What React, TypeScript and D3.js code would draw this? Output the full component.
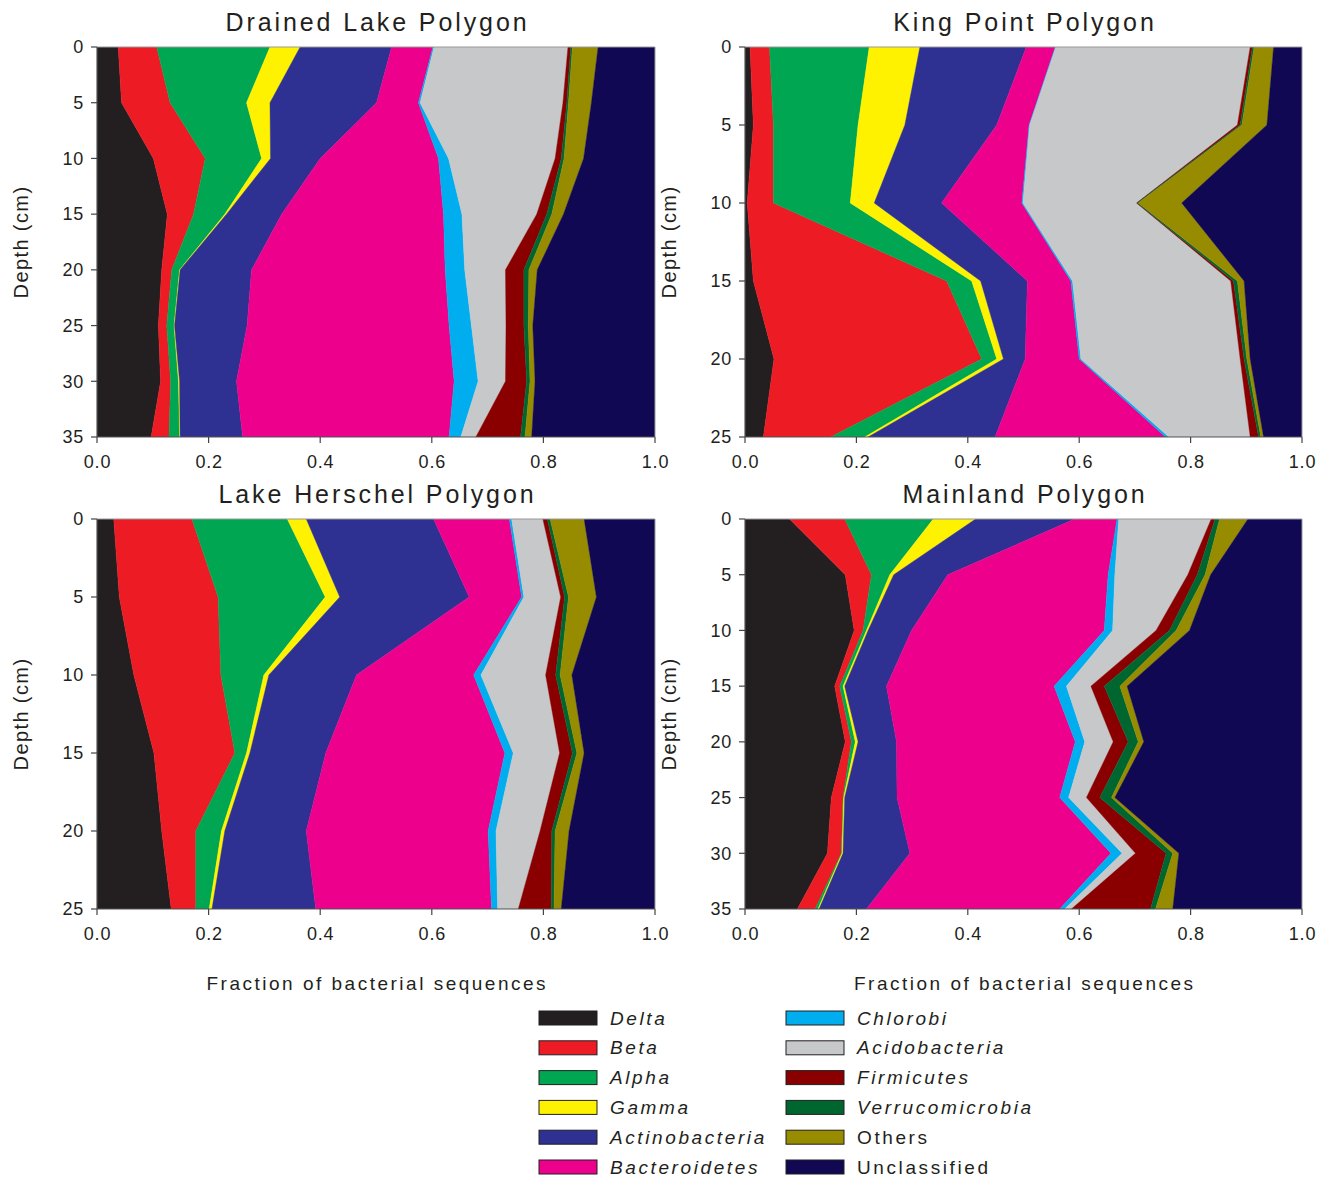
import React from "react";
import * as d3 from "d3";

const categories = [
  "Delta", "Beta", "Alpha", "Gamma", "Actinobacteria", "Bacteroidetes",
  "Chlorobi", "Acidobacteria", "Firmicutes", "Verrucomicrobia", "Others", "Unclassified",
];
const italicCats = [true, true, true, true, true, true, true, true, true, true, false, false];
const colors = [
  "#231f20", "#ed1c24", "#00a651", "#fff200", "#2e3192", "#ec008c",
  "#00aeef", "#c7c8ca", "#8a0000", "#00662f", "#978c00", "#110854",
];

const xTicks = [0, 0.2, 0.4, 0.6, 0.8, 1.0];

// Drained Lake Polygon
const drainedDepths = [0, 5, 10, 15, 20, 25, 30, 35];
const drainedValues = [
  [0.038, 0.044, 0.101, 0.126, 0.116, 0.110, 0.114, 0.097],
  [0.069, 0.087, 0.093, 0.047, 0.018, 0.015, 0.018, 0.032],
  [0.203, 0.137, 0.101, 0.056, 0.014, 0.013, 0.014, 0.019],
  [0.054, 0.042, 0.016, 0.003, 0.001, 0.001, 0.002, 0.001],
  [0.164, 0.191, 0.089, 0.099, 0.128, 0.130, 0.102, 0.112],
  [0.074, 0.075, 0.212, 0.290, 0.347, 0.362, 0.390, 0.370],
  [0.002, 0.003, 0.018, 0.033, 0.035, 0.040, 0.043, 0.021],
  [0.240, 0.256, 0.191, 0.134, 0.073, 0.062, 0.049, 0.027],
  [0.005, 0.007, 0.011, 0.018, 0.033, 0.032, 0.038, 0.080],
  [0.003, 0.003, 0.005, 0.009, 0.009, 0.008, 0.006, 0.008],
  [0.046, 0.041, 0.035, 0.021, 0.015, 0.008, 0.009, 0.012],
  [0.102, 0.114, 0.128, 0.164, 0.211, 0.219, 0.215, 0.221],
];

// King Point Polygon
const kingDepths = [0, 5, 10, 15, 20, 25];
const kingValues = [
  [0.009, 0.015, 0.004, 0.015, 0.052, 0.033],
  [0.035, 0.036, 0.047, 0.347, 0.373, 0.121],
  [0.179, 0.152, 0.138, 0.045, 0.027, 0.061],
  [0.091, 0.084, 0.043, 0.016, 0.012, 0.006],
  [0.191, 0.165, 0.121, 0.084, 0.039, 0.228],
  [0.052, 0.058, 0.144, 0.078, 0.097, 0.306],
  [0.001, 0.001, 0.002, 0.003, 0.003, 0.006],
  [0.349, 0.373, 0.204, 0.284, 0.286, 0.146],
  [0.004, 0.005, 0.001, 0.005, 0.007, 0.015],
  [0.003, 0.003, 0.002, 0.007, 0.005, 0.004],
  [0.035, 0.045, 0.078, 0.012, 0.006, 0.005],
  [0.051, 0.063, 0.216, 0.104, 0.093, 0.069],
];

// Lake Herschel Polygon
const herschelDepths = [0, 5, 10, 15, 20, 25];
const herschelValues = [
  [0.030, 0.040, 0.066, 0.102, 0.116, 0.133],
  [0.140, 0.177, 0.156, 0.145, 0.061, 0.044],
  [0.171, 0.192, 0.077, 0.021, 0.046, 0.024],
  [0.034, 0.026, 0.009, 0.006, 0.006, 0.005],
  [0.228, 0.232, 0.157, 0.136, 0.146, 0.186],
  [0.136, 0.094, 0.210, 0.321, 0.326, 0.315],
  [0.004, 0.004, 0.013, 0.015, 0.014, 0.011],
  [0.056, 0.066, 0.116, 0.083, 0.079, 0.037],
  [0.008, 0.007, 0.018, 0.023, 0.021, 0.059],
  [0.005, 0.007, 0.008, 0.008, 0.006, 0.005],
  [0.061, 0.050, 0.021, 0.013, 0.025, 0.013],
  [0.127, 0.105, 0.149, 0.127, 0.154, 0.168],
];

// Mainland Polygon
const mainlandDepths = [0, 5, 10, 15, 20, 25, 30, 35];
const mainlandValues = [
  [0.080, 0.180, 0.196, 0.161, 0.180, 0.155, 0.148, 0.094],
  [0.099, 0.047, 0.016, 0.009, 0.011, 0.021, 0.025, 0.032],
  [0.159, 0.033, 0.006, 0.006, 0.007, 0.001, 0.001, 0.005],
  [0.076, 0.007, 0.003, 0.003, 0.005, 0.002, 0.002, 0.002],
  [0.178, 0.097, 0.078, 0.075, 0.069, 0.094, 0.120, 0.085],
  [0.076, 0.288, 0.346, 0.301, 0.321, 0.292, 0.361, 0.347],
  [0.003, 0.012, 0.015, 0.022, 0.017, 0.016, 0.020, 0.009],
  [0.166, 0.131, 0.078, 0.044, 0.051, 0.032, 0.024, 0.012],
  [0.007, 0.017, 0.024, 0.024, 0.027, 0.024, 0.055, 0.142],
  [0.008, 0.014, 0.012, 0.028, 0.018, 0.021, 0.012, 0.009],
  [0.051, 0.010, 0.024, 0.013, 0.010, 0.006, 0.011, 0.031],
  [0.097, 0.164, 0.202, 0.314, 0.284, 0.336, 0.221, 0.232],
];

const FONT = "'Liberation Sans', Arial, Helvetica, sans-serif";

type PanelProps = {
  title: string;
  depths: number[];
  values: number[][];
  maxDepth: number;
  box: { x0: number; x1: number; y0: number; y1: number };
  showXLabel: boolean;
};

function Panel({ title, depths, values, maxDepth, box, showXLabel }: PanelProps) {
  const x = d3.scaleLinear().domain([0, 1]).range([box.x0, box.x1]);
  const y = d3.scaleLinear().domain([0, maxDepth]).range([box.y0, box.y1]);
  const rows = depths.map((dep, i) => {
    const r: any = { depth: dep };
    categories.forEach((c, k) => (r[c] = values[k][i]));
    return r;
  });
  const series = d3.stack().keys(categories)(rows as any);
  const area = d3
    .area<any>()
    .y((d) => y(d.data.depth))
    .x0((d) => x(d[0]))
    .x1((d) => x(Math.min(1, d[1])));
  const yTicks = d3.range(0, maxDepth + 1, 5);
  const clipId = "clip-" + title.replace(/\s/g, "");
  const cx = (box.x0 + box.x1) / 2;
  const cy = (box.y0 + box.y1) / 2;
  return (
    <g>
      <defs>
        <clipPath id={clipId}>
          <rect x={box.x0} y={box.y0} width={box.x1 - box.x0} height={box.y1 - box.y0} />
        </clipPath>
      </defs>
      <g clipPath={`url(#${clipId})`}>
        {series.map((s, k) => (
          <path key={k} d={area(s as any) || ""} fill={colors[k]} stroke={colors[k]} strokeWidth={0.4} />
        ))}
      </g>
      <line x1={box.x0} x2={box.x1} y1={box.y0} y2={box.y0} stroke="#999" strokeWidth={1} />
      <line x1={box.x1} x2={box.x1} y1={box.y0} y2={box.y1} stroke="#999" strokeWidth={1} />
      <line x1={box.x0} x2={box.x0} y1={box.y0} y2={box.y1} stroke="#555" strokeWidth={1.2} />
      <line x1={box.x0} x2={box.x1} y1={box.y1} y2={box.y1} stroke="#555" strokeWidth={1.2} />
      {yTicks.map((t) => (
        <g key={"y" + t}>
          <line x1={box.x0 - 6} x2={box.x0} y1={y(t)} y2={y(t)} stroke="#444" strokeWidth={1.2} />
          <text x={box.x0 - 13} y={y(t)} dy="0.35em" textAnchor="end" fontSize={18} fontFamily={FONT}
            letterSpacing={0.8} fill="#231f20">
            {t}
          </text>
        </g>
      ))}
      {xTicks.map((t) => (
        <g key={"x" + t}>
          <line x1={x(t)} x2={x(t)} y1={box.y1} y2={box.y1 + 6} stroke="#444" strokeWidth={1.2} />
          <text x={x(t) + 0.5} y={box.y1 + 31} textAnchor="middle" fontSize={18} fontFamily={FONT}
            letterSpacing={0.8} fill="#231f20">
            {t.toFixed(1)}
          </text>
        </g>
      ))}
      <text x={cx + 1.5} y={box.y0 - 16} textAnchor="middle" fontSize={25} fontFamily={FONT}
        letterSpacing={2.9} fill="#231f20">
        {title}
      </text>
      <text
        transform={`translate(${box.x0 - 69},${cy}) rotate(-90)`}
        textAnchor="middle"
        fontSize={20}
        fontFamily={FONT}
        letterSpacing={1.4}
        fill="#231f20"
      >
        Depth (cm)
      </text>
      {showXLabel && (
        <text x={cx + 1.3} y={box.y1 + 81} textAnchor="middle" fontSize={19} fontFamily={FONT}
          letterSpacing={2.5} fill="#231f20">
          Fraction of bacterial sequences
        </text>
      )}
    </g>
  );
}

function Legend() {
  const rowY = (i: number) => 1018 + i * 29.8;
  return (
    <g>
      {categories.map((c, k) => {
        const col = k < 6 ? 0 : 1;
        const row = k % 6;
        const sx = col === 0 ? 539 : 786;
        return (
          <g key={c}>
            <rect x={sx} y={rowY(row) - 7} width={58} height={14} fill={colors[k]} stroke="#231f20" strokeWidth={1} />
            <text
              x={sx + 71}
              y={rowY(row)}
              dy="0.35em"
              fontSize={19}
              fontFamily={FONT}
              letterSpacing={2.6}
              fontStyle={italicCats[k] ? "italic" : "normal"}
              fill="#231f20"
            >
              {c}
            </text>
          </g>
        );
      })}
    </g>
  );
}

export default function App() {
  return (
    <svg
      width={1331}
      height={1180}
      style={{ position: "absolute", left: 0, top: 0, background: "#fff" }}
    >
      <rect x={0} y={0} width={1331} height={1180} fill="#fff" />
      <Panel title="Drained Lake Polygon" depths={drainedDepths} values={drainedValues} maxDepth={35}
        box={{ x0: 97, x1: 655, y0: 47, y1: 437 }} showXLabel={false} />
      <Panel title="King Point Polygon" depths={kingDepths} values={kingValues} maxDepth={25}
        box={{ x0: 745, x1: 1302, y0: 47, y1: 437 }} showXLabel={false} />
      <Panel title="Lake Herschel Polygon" depths={herschelDepths} values={herschelValues} maxDepth={25}
        box={{ x0: 97, x1: 655, y0: 519, y1: 909 }} showXLabel={true} />
      <Panel title="Mainland Polygon" depths={mainlandDepths} values={mainlandValues} maxDepth={35}
        box={{ x0: 745, x1: 1302, y0: 519, y1: 909 }} showXLabel={true} />
      <Legend />
    </svg>
  );
}
